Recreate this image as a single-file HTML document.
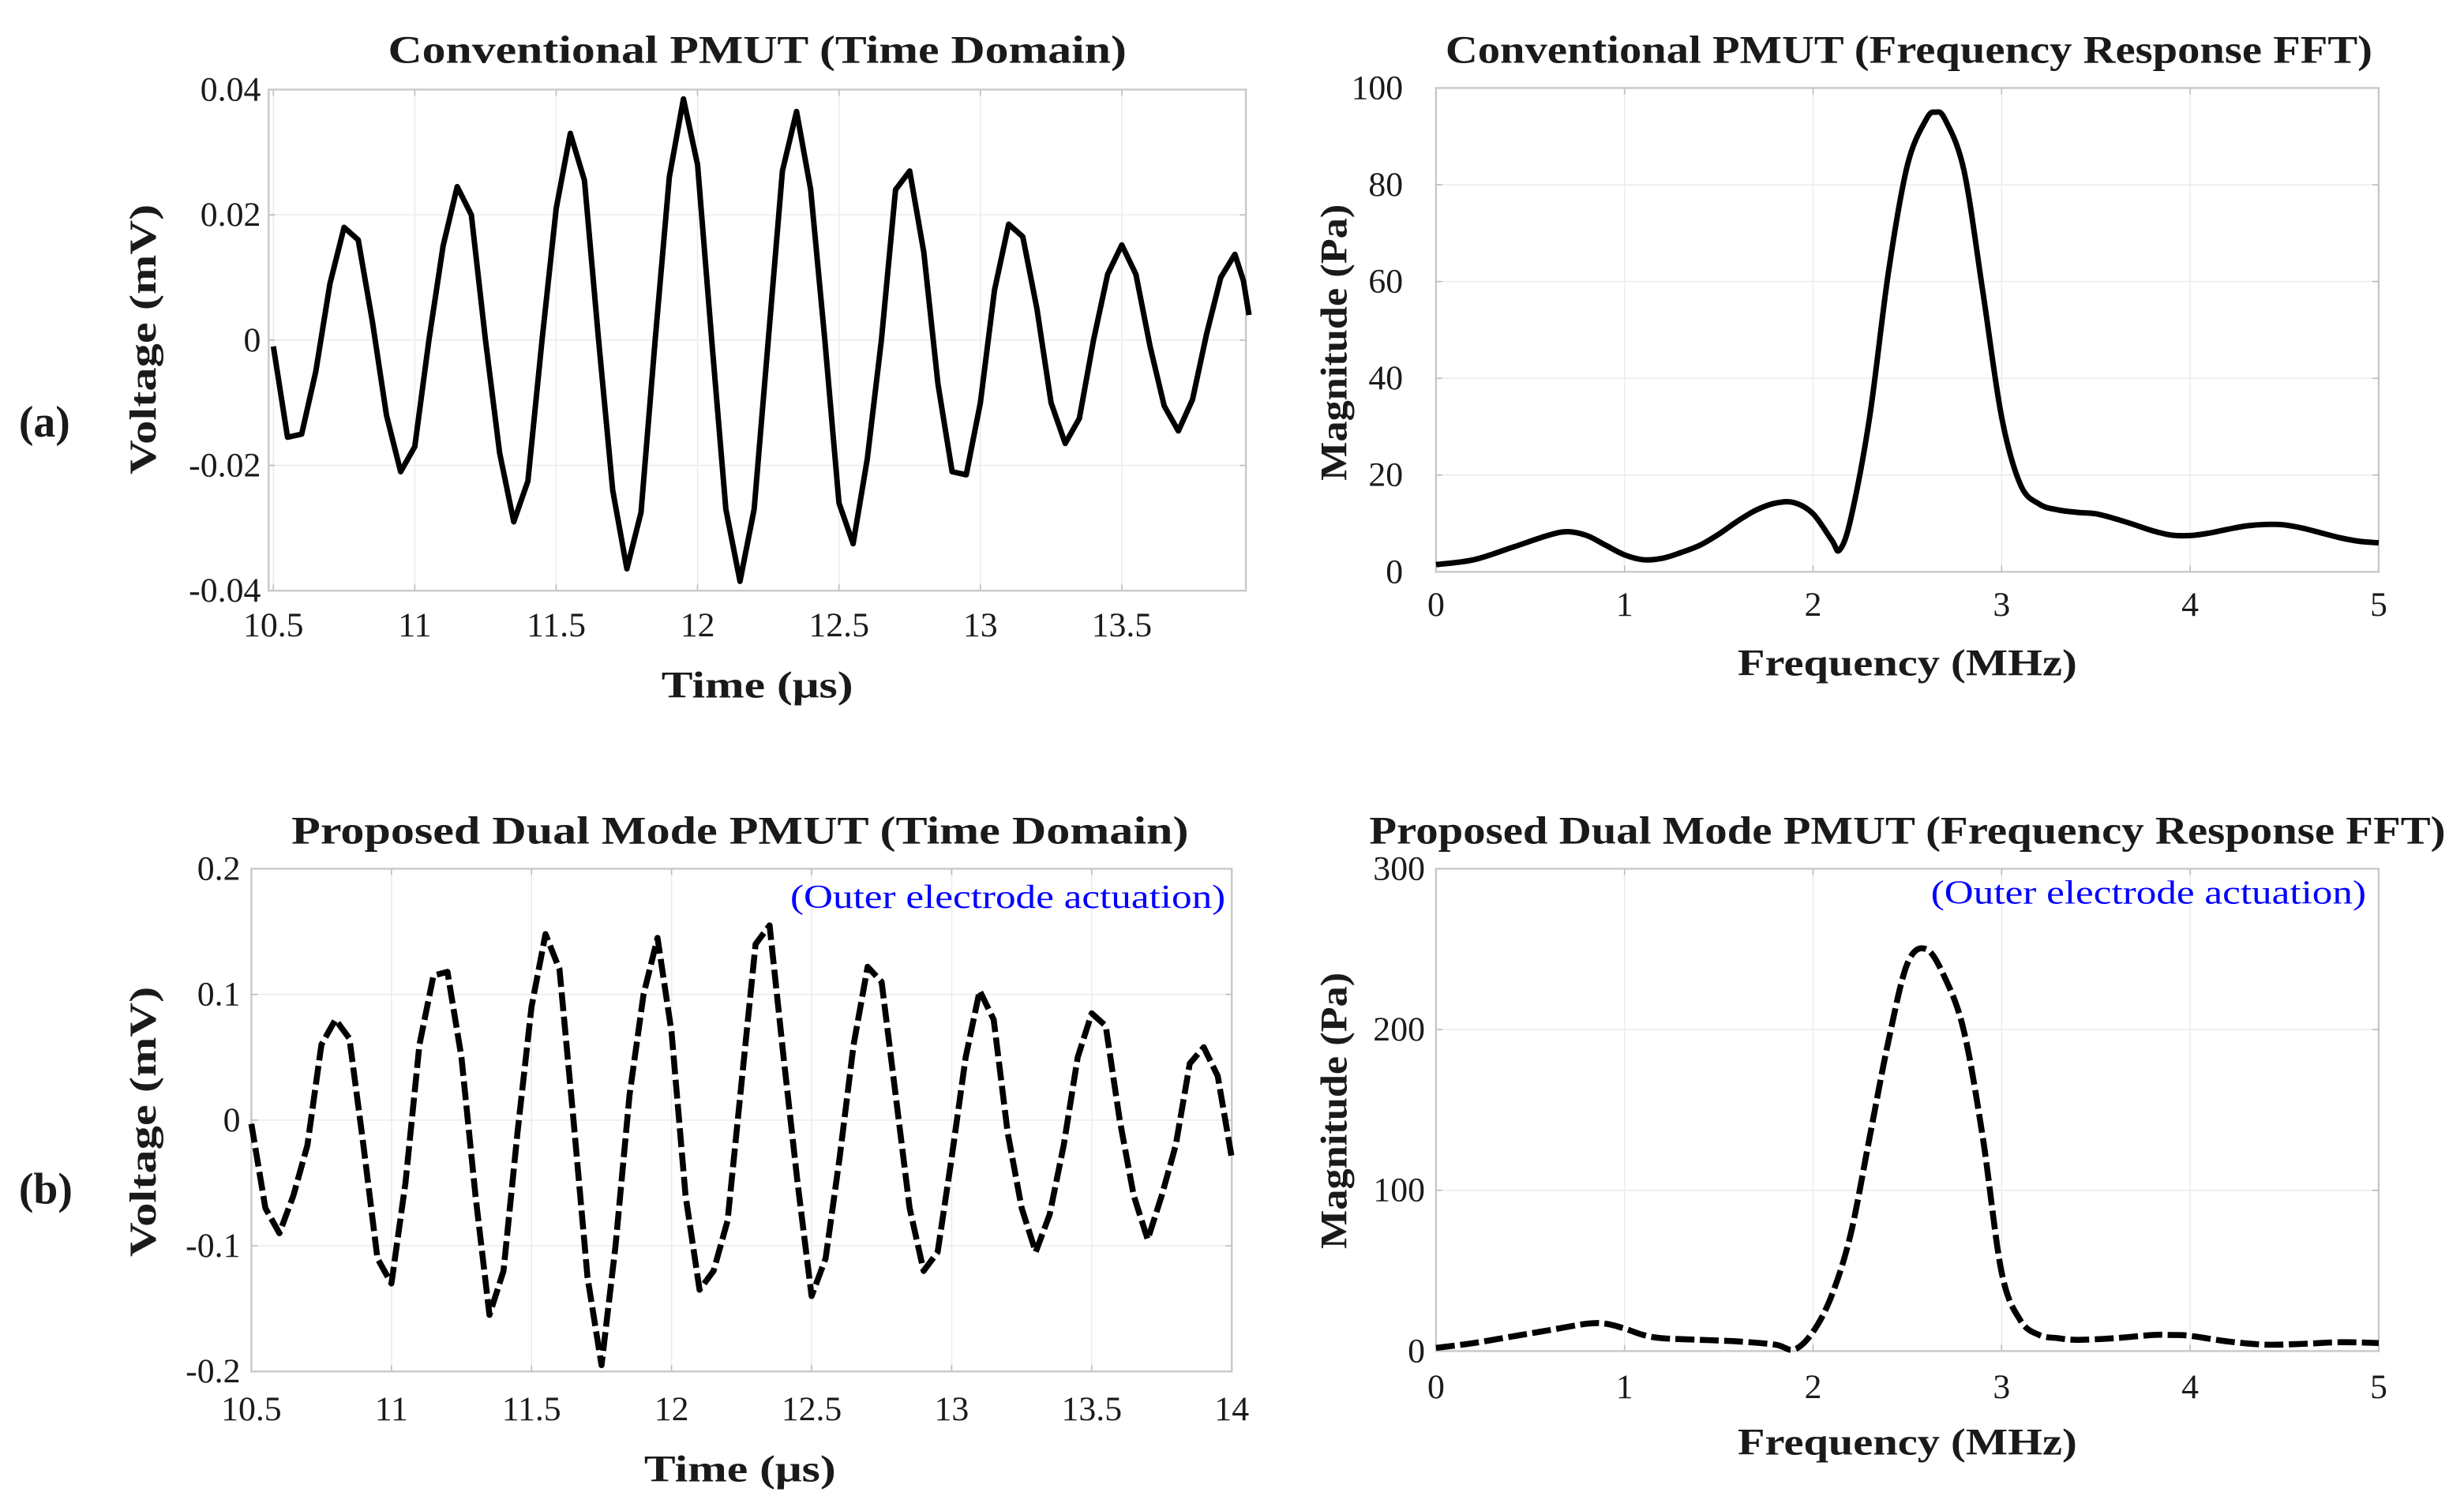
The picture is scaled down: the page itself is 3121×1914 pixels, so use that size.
<!DOCTYPE html>
<html><head><meta charset="utf-8"><style>
html,body{margin:0;padding:0;background:#fff;}
svg{display:block;}
text{font-family:"Liberation Serif",serif;fill:#1a1a1a;}
</style></head><body>
<svg id="fig" width="3121" height="1914" viewBox="0 0 1568.3 961.8" preserveAspectRatio="none" xmlns="http://www.w3.org/2000/svg"></svg>
<script>
// ---- Data ----
const convTimeT = [10.50,10.55,10.60,10.65,10.70,10.75,10.80,10.85,10.90,10.95,11.00,11.05,11.10,11.15,11.20,11.25,11.30,11.35,11.40,11.45,11.50,11.55,11.60,11.65,11.70,11.75,11.80,11.85,11.90,11.95,12.00,12.05,12.10,12.15,12.20,12.25,12.30,12.35,12.40,12.45,12.50,12.55,12.60,12.65,12.70,12.75,12.80,12.85,12.90,12.95,13.00,13.05,13.10,13.15,13.20,13.25,13.30,13.35,13.40,13.45,13.50,13.55,13.60,13.65,13.70,13.75,13.80,13.85,13.90,13.93,13.95];
const convTimeV = [-0.001,-0.0155,-0.015,-0.005,0.009,0.018,0.016,0.003,-0.012,-0.021,-0.017,0.0,0.015,0.0245,0.020,0.0,-0.018,-0.029,-0.0225,0.0,0.021,0.033,0.0255,0.0,-0.024,-0.0365,-0.0275,0.0,0.026,0.0385,0.028,0.0,-0.027,-0.0385,-0.027,0.0,0.027,0.0365,0.024,0.0,-0.026,-0.0325,-0.019,0.0,0.024,0.027,0.014,-0.007,-0.021,-0.0215,-0.010,0.008,0.0185,0.0165,0.005,-0.010,-0.0165,-0.0125,0.0,0.0105,0.0152,0.0105,-0.001,-0.0105,-0.0145,-0.0095,0.001,0.010,0.0137,0.0095,0.004];
const dualTimeT = [10.50,10.55,10.60,10.65,10.70,10.75,10.80,10.85,10.90,10.95,11.00,11.05,11.10,11.15,11.20,11.25,11.30,11.35,11.40,11.45,11.50,11.55,11.60,11.65,11.70,11.75,11.80,11.85,11.90,11.95,12.00,12.05,12.10,12.15,12.20,12.25,12.30,12.35,12.40,12.45,12.50,12.55,12.60,12.65,12.70,12.75,12.80,12.85,12.90,12.95,13.00,13.05,13.10,13.15,13.20,13.25,13.30,13.35,13.40,13.45,13.50,13.55,13.60,13.65,13.70,13.75,13.80,13.85,13.90,13.95,14.00];
const dualTimeV = [-0.003,-0.07,-0.09,-0.06,-0.02,0.06,0.08,0.065,-0.02,-0.11,-0.13,-0.05,0.06,0.115,0.118,0.05,-0.06,-0.155,-0.12,-0.01,0.09,0.148,0.12,0.0,-0.125,-0.195,-0.10,0.02,0.10,0.145,0.07,-0.06,-0.135,-0.12,-0.08,0.03,0.14,0.155,0.05,-0.05,-0.14,-0.11,-0.03,0.06,0.122,0.11,0.02,-0.07,-0.12,-0.105,-0.03,0.05,0.103,0.08,-0.01,-0.07,-0.105,-0.075,-0.02,0.05,0.085,0.075,0.0,-0.06,-0.095,-0.06,-0.02,0.045,0.058,0.035,-0.03];
const convFftF = [0,0.2,0.4,0.6,0.7,0.8,0.9,1.0,1.1,1.2,1.3,1.4,1.5,1.6,1.7,1.8,1.9,2.0,2.1,2.14,2.2,2.3,2.4,2.5,2.6,2.65,2.7,2.8,2.9,3.0,3.1,3.2,3.3,3.4,3.5,3.6,3.7,3.8,3.9,4.0,4.1,4.2,4.3,4.4,4.5,4.6,4.7,4.8,4.9,5.0];
const convFftM = [1.5,2.5,5,7.6,8.3,7.5,5.5,3.5,2.5,2.8,4,5.5,7.8,10.5,12.8,14.2,14.3,12,6.5,4.5,11,32,62,84,93.5,95,93.5,83,58,32,18,14,12.8,12.3,12,11,9.8,8.5,7.6,7.5,8,8.8,9.5,9.8,9.7,9,8,7,6.3,6];
const dualFftF = [0,0.2,0.4,0.6,0.8,0.9,1.0,1.1,1.2,1.4,1.6,1.8,1.9,2.0,2.1,2.2,2.3,2.4,2.5,2.6,2.7,2.8,2.9,3.0,3.1,3.2,3.3,3.4,3.6,3.8,3.9,4.0,4.2,4.4,4.6,4.8,5.0];
const dualFftM = [2,5,9,13,17,17,14,10,8,7,6,4,1,12,35,73,133,193,241,250,232,199,133,49,19,10,8,7,8,10,10,9.5,6,4,4.5,5.5,5];
const timeTicksA = [10.5,11,11.5,12,12.5,13,13.5];
const timeTickLabelsA = ["10.5","11","11.5","12","12.5","13","13.5"];
const voltTicksA = [-0.04,-0.02,0,0.02,0.04];
const voltTickLabelsA = ["-0.04","-0.02","0","0.02","0.04"];
const freqTicks = [0,1,2,3,4,5];
const freqTickLabels = ["0","1","2","3","4","5"];
const magTicksA = [0,20,40,60,80,100];
const magTickLabelsA = ["0","20","40","60","80","100"];
const timeTicksB = [10.5,11,11.5,12,12.5,13,13.5,14];
const timeTickLabelsB = ["10.5","11","11.5","12","12.5","13","13.5","14"];
const voltTicksB = [-0.2,-0.1,0,0.1,0.2];
const voltTickLabelsB = ["-0.2","-0.1","0","0.1","0.2"];
const magTicksB = [0,100,200,300];
const magTickLabelsB = ["0","100","200","300"];

const NS = "http://www.w3.org/2000/svg";
const svg = document.getElementById('fig');
function mk(tag, attrs, parent){ const e=document.createElementNS(NS,tag); for(const k in attrs) e.setAttribute(k,attrs[k]); (parent||svg).appendChild(e); return e; }
function txt(s, attrs, parent){ const e=mk('text',attrs,parent); e.textContent=s; return e; }
function lin(d0,d1,r0,r1){ return v=>r0+(v-d0)*(r1-r0)/(d1-d0); }
function smoothPath(pts){
  let d='M'+pts[0][0]+','+pts[0][1];
  for(let i=0;i<pts.length-1;i++){
    const p0=pts[Math.max(0,i-1)],p1=pts[i],p2=pts[i+1],p3=pts[Math.min(pts.length-1,i+2)];
    const c1=[p1[0]+(p2[0]-p0[0])/6,p1[1]+(p2[1]-p0[1])/6];
    const c2=[p2[0]-(p3[0]-p1[0])/6,p2[1]-(p3[1]-p1[1])/6];
    d+=' C'+c1[0]+','+c1[1]+' '+c2[0]+','+c2[1]+' '+p2[0]+','+p2[1];
  }
  return d;
}

function panel(o){
  const g=mk('g',{});
  
  
  const xs=lin(o.xd[0],o.xd[1],o.xr[0],o.xr[1]);
  const ys=lin(o.yd[0],o.yd[1],o.yr[0],o.yr[1]);
  const L=o.box[0],R=o.box[1],T=o.box[2],B=o.box[3];
  o.xt.forEach((v,i)=>{
    const x=xs(v);
    const gl=mk('line',{x1:x,x2:x,y1:T,y2:B,stroke:'#ececec','stroke-width':0.8},g);
    
    
    mk('line',{x1:x,x2:x,y1:B,y2:B-4,stroke:'#bbb','stroke-width':0.8},g);
    mk('line',{x1:x,x2:x,y1:T,y2:T+4,stroke:'#bbb','stroke-width':0.8},g);
    const t=txt(o.xl[i],{x:x,y:o.xtickY,'text-anchor':'middle','font-size':22},g);
    
    
  });
  o.yt.forEach((v,i)=>{
    const y=ys(v);
    const gl=mk('line',{x1:L,x2:R,y1:y,y2:y,stroke:'#ececec','stroke-width':0.8},g);
    
    
    mk('line',{x1:L,x2:L+4,y1:y,y2:y,stroke:'#bbb','stroke-width':0.8},g);
    mk('line',{x1:R,x2:R-4,y1:y,y2:y,stroke:'#bbb','stroke-width':0.8},g);
    const t=txt(o.yl[i],{x:o.ytickX,y:y+7,'text-anchor':'end','font-size':22},g);
    
    
  });
  const fr=mk('rect',{x:L,y:T,width:R-L,height:B-T,fill:'none',stroke:'#c8c8c8','stroke-width':1.2},g);
  
  
  const pts=o.X.map((v,i)=>[xs(v),ys(o.Y[i])]);
  const d=o.smooth?smoothPath(pts):'M'+pts.map(p=>p[0].toFixed(2)+','+p[1].toFixed(2)).join(' L');
  const attrs={d:d,fill:'none',stroke:'#000','stroke-width':o.dash?3.8:3.5,'stroke-linejoin':'round','stroke-linecap':'butt'};
  if(o.dash) attrs['stroke-dasharray']='12,3.5';
  const p=mk('path',attrs,g);
  
  
  const ti=txt(o.title,{x:o.titlePos[0],y:o.titlePos[1],'text-anchor':'middle','font-size':25,'font-weight':'bold',textLength:o.titleLen,lengthAdjust:'spacingAndGlyphs'},g);
  
  
  const xl=txt(o.xlabel,{x:o.xlabelPos[0],y:o.xlabelPos[1],'text-anchor':'middle','font-size':24,'font-weight':'bold',textLength:o.xlabelLen,lengthAdjust:'spacingAndGlyphs'},g);
  
  
  const yl=txt(o.ylabel,{x:0,y:0,'text-anchor':'middle','font-size':24,'font-weight':'bold',textLength:o.ylabelLen,lengthAdjust:'spacingAndGlyphs',transform:'translate('+o.ylabelPos[0]+','+o.ylabelPos[1]+') rotate(-90)'},g);
  
  
  if(o.note){
    const n=txt('(Outer electrode actuation)',{x:o.note[0],y:o.note[1],'text-anchor':'end','font-size':21,fill:'#0000ff',textLength:277,lengthAdjust:'spacingAndGlyphs'},g);
    n.setAttribute('style','fill:#0000ff');
    
    
  }
}

panel({name:'panel-a-time',xd:[10.5,13.5],xr:[174,714],yd:[-0.04,0.04],yr:[376,57],box:[171,793,57,376],
  xt:timeTicksA,xl:timeTickLabelsA,yt:voltTicksA,yl:voltTickLabelsA,xtickY:405,ytickX:166,
  X:convTimeT,Y:convTimeV,seriesName:'conventional-time-line',
  title:'Conventional PMUT (Time Domain)',titlePos:[482,40],titleLen:470,
  xlabel:'Time (\u03bcs)',xlabelPos:[482,444],xlabelLen:122,
  ylabel:'Voltage (mV)',ylabelPos:[99,216],ylabelLen:172});
panel({name:'panel-a-fft',xd:[0,5],xr:[914,1514],yd:[0,100],yr:[364,56],box:[914,1514,56,364],
  xt:freqTicks,xl:freqTickLabels,yt:magTicksA,yl:magTickLabelsA,xtickY:392,ytickX:893,
  X:convFftF,Y:convFftM,smooth:true,seriesName:'conventional-fft-line',
  title:'Conventional PMUT (Frequency Response FFT)',titlePos:[1215,40],titleLen:590,
  xlabel:'Frequency (MHz)',xlabelPos:[1214,430],xlabelLen:216,
  ylabel:'Magnitude (Pa)',ylabelPos:[857,218],ylabelLen:176});
panel({name:'panel-b-time',xd:[10.5,14],xr:[160,784],yd:[-0.2,0.2],yr:[873,553],box:[160,784,553,873],
  xt:timeTicksB,xl:timeTickLabelsB,yt:voltTicksB,yl:voltTickLabelsB,xtickY:904,ytickX:153,
  X:dualTimeT,Y:dualTimeV,dash:true,seriesName:'dual-mode-time-line',
  title:'Proposed Dual Mode PMUT (Time Domain)',titlePos:[471,537],titleLen:571,
  xlabel:'Time (\u03bcs)',xlabelPos:[471,943],xlabelLen:122,
  ylabel:'Voltage (mV)',ylabelPos:[99,714],ylabelLen:172, note:[780,578]});
panel({name:'panel-b-fft',xd:[0,5],xr:[914,1514],yd:[0,300],yr:[860,553],box:[914,1514,553,860],
  xt:freqTicks,xl:freqTickLabels,yt:magTicksB,yl:magTickLabelsB,xtickY:890,ytickX:907,
  X:dualFftF,Y:dualFftM,smooth:true,dash:true,seriesName:'dual-mode-fft-line',
  title:'Proposed Dual Mode PMUT (Frequency Response FFT)',titlePos:[1214,537],titleLen:685,
  xlabel:'Frequency (MHz)',xlabelPos:[1214,926],xlabelLen:216,
  ylabel:'Magnitude (Pa)',ylabelPos:[857,707],ylabelLen:176, note:[1506,575]});

const la=txt('(a)',{x:12,y:278,'font-size':28,'font-weight':'bold'});


const lb=txt('(b)',{x:12,y:766,'font-size':28,'font-weight':'bold'});


</script>
</body></html>
